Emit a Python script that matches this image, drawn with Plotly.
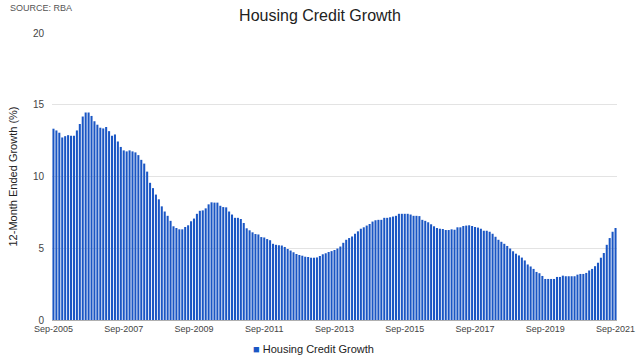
import pandas as pd
import plotly.graph_objects as go

# Monthly periods Sep-2005 .. Sep-2021
months = [d.strftime("%b-%Y") for d in pd.date_range("2005-09-01", "2021-09-01", freq="MS")]

growth = [
    13.33, 13.21, 13.05, 12.72, 12.81, 12.88, 12.84, 12.84, 13.21, 13.66,
    14.18, 14.46, 14.46, 14.22, 13.85, 13.61, 13.40, 13.35, 13.45, 13.16,
    12.84, 12.93, 12.44, 12.06, 11.82, 11.75, 11.82, 11.75, 11.68, 11.49,
    11.16, 10.90, 10.34, 9.56, 9.19, 8.74, 8.41, 7.92, 7.56, 7.26,
    6.91, 6.53, 6.41, 6.32, 6.32, 6.48, 6.60, 6.88, 7.07, 7.40,
    7.61, 7.64, 7.78, 8.06, 8.20, 8.18, 8.18, 7.96, 7.87, 7.85,
    7.56, 7.35, 7.12, 7.12, 7.04, 6.76, 6.39, 6.25, 6.11, 5.99,
    5.96, 5.78, 5.75, 5.64, 5.56, 5.31, 5.24, 5.21, 5.19, 5.09,
    4.95, 4.84, 4.72, 4.60, 4.53, 4.48, 4.41, 4.39, 4.34, 4.34,
    4.36, 4.46, 4.58, 4.65, 4.74, 4.80, 4.88, 4.98, 5.12, 5.38,
    5.59, 5.71, 5.82, 6.01, 6.18, 6.36, 6.46, 6.58, 6.69, 6.86,
    6.95, 6.98, 6.98, 7.12, 7.12, 7.16, 7.21, 7.26, 7.40, 7.40,
    7.40, 7.40, 7.35, 7.26, 7.26, 7.24, 6.98, 6.91, 6.81, 6.67,
    6.53, 6.41, 6.36, 6.34, 6.27, 6.27, 6.32, 6.29, 6.46, 6.46,
    6.55, 6.58, 6.60, 6.55, 6.48, 6.44, 6.36, 6.22, 6.22, 6.15,
    6.01, 5.80, 5.59, 5.45, 5.31, 5.16, 4.98, 4.79, 4.62, 4.50,
    4.35, 4.15, 3.87, 3.73, 3.56, 3.35, 3.26, 3.07, 2.86, 2.86,
    2.86, 2.86, 3.00, 3.00, 3.09, 3.05, 3.05, 3.05, 3.05, 3.16,
    3.21, 3.21, 3.28, 3.45, 3.56, 3.75, 3.99, 4.34, 4.67, 5.24,
    5.71, 6.15, 6.41,
]

tick_labels = months[::24]
y_ticks = [0, 5, 10, 15, 20]
bar_color = "#1a56c4"
series_name = "Housing Credit Growth"

fig = go.Figure()
fig.add_trace(go.Bar(
    x=months, y=growth, name=series_name,
    marker=dict(color=bar_color, line=dict(width=0)),
    showlegend=False,
))

fig.update_layout(
    width=640, height=356,
    margin=dict(l=52, r=23, t=33, b=36),
    paper_bgcolor="white", plot_bgcolor="white",
    font=dict(family="Liberation Sans, Arial, sans-serif", color="#444"),
    title=dict(text="Housing Credit Growth", x=0.5, xanchor="center",
               y=1 - 15 / 356, yanchor="middle", yref="container",
               font=dict(size=16, color="#222")),
    bargap=0.3,
    showlegend=False,
    xaxis=dict(
        type="category", tickmode="array", tickvals=tick_labels, ticktext=tick_labels,
        tickangle=0, tickfont=dict(size=9, color="#444"), showgrid=False,
        showline=False, ticks="", ticklabelstandoff=2, automargin=False,
    ),
    yaxis=dict(
        range=[0, 20], tickvals=y_ticks, tickfont=dict(size=10, color="#444"),
        gridcolor="#e3e3e3", zeroline=True, zerolinecolor="#b0b0b0", zerolinewidth=1,
        title=dict(text="12-Month Ended Growth (%)", font=dict(size=11, color="#222"), standoff=13),
        ticks="", ticklabelstandoff=7, automargin=False,
    ),
    annotations=[
        dict(text="SOURCE: RBA", xref="paper", yref="paper", x=(8 - 52) / 565, y=(320 - 8) / 287,
             xanchor="left", yanchor="middle", showarrow=False,
             font=dict(size=9, color="#555")),
        dict(text=f"<span style='color:{bar_color}'>■</span> {series_name}",
             xref="paper", yref="paper", x=(313 - 52) / 565, y=(320 - 349) / 287,
             xanchor="center", yanchor="middle", showarrow=False,
             font=dict(size=11, color="#222")),
    ],
)

fig.write_html("out.html", config={"displayModeBar": False},
               post_script="document.body.style.margin='0';")
